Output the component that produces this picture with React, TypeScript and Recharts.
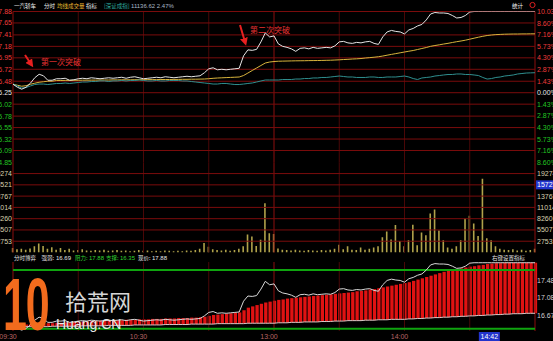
import { ComposedChart, Line, Bar, XAxis, YAxis, ReferenceLine } from 'recharts'

document.body.style.margin = '0'
document.body.style.background = '#000'

// one sample every 2 minutes of the trading day (09:30-11:30, 13:00-15:00)
const STEP_MIN = 2
const PREV_CLOSE = 16.25

const price = [
  16.42, 16.36, 16.32, 16.36, 16.44, 16.55, 16.62, 16.59, 16.5, 16.5,
  16.53, 16.53, 16.54, 16.5, 16.51, 16.53, 16.54, 16.53, 16.55, 16.54,
  16.53, 16.54, 16.55, 16.54, 16.55, 16.56, 16.54, 16.56, 16.57, 16.55,
  16.53, 16.54, 16.55, 16.56, 16.55, 16.57, 16.56, 16.55, 16.56, 16.57,
  16.58, 16.57, 16.58, 16.59, 16.65, 16.73, 16.75, 16.71, 16.72, 16.71,
  16.72, 16.73, 16.74, 16.99, 17.11, 17.1, 17.12, 17.27, 17.45, 17.37,
  17.39, 17.23, 17.18, 17.16, 17.13, 17.08, 17.14, 17.15, 17.13, 17.16,
  17.14, 17.15, 17.16, 17.15, 17.19, 17.27, 17.28, 17.25, 17.24, 17.26,
  17.25, 17.27, 17.28, 17.24, 17.22, 17.37, 17.47, 17.5, 17.48, 17.47,
  17.43, 17.51, 17.54, 17.59, 17.62, 17.71, 17.83, 17.86, 17.85, 17.85,
  17.84, 17.8, 17.75, 17.76, 17.8, 17.87, 17.88, 17.88, 17.88, 17.88,
  17.88, 17.88, 17.88, 17.88, 17.88, 17.88, 17.88, 17.88, 17.88, 17.88, 17.88,
]

const avgPrice = [
  16.42, 16.4, 16.38, 16.39, 16.42, 16.44, 16.46, 16.47, 16.48, 16.48,
  16.495, 16.495, 16.497, 16.497, 16.499, 16.499, 16.501, 16.501, 16.503, 16.503,
  16.505, 16.505, 16.505, 16.507, 16.507, 16.509, 16.509, 16.509, 16.511, 16.511,
  16.511, 16.513, 16.513, 16.513, 16.515, 16.515, 16.515, 16.517, 16.517, 16.519,
  16.519, 16.521, 16.521, 16.523, 16.525, 16.531, 16.539, 16.545, 16.549, 16.553,
  16.557, 16.561, 16.565, 16.595, 16.645, 16.696, 16.746, 16.796, 16.846, 16.866,
  16.876, 16.882, 16.884, 16.886, 16.888, 16.89, 16.891, 16.892, 16.894, 16.895,
  16.896, 16.898, 16.9, 16.902, 16.906, 16.91, 16.916, 16.92, 16.926, 16.93,
  16.936, 16.946, 16.954, 16.962, 16.972, 16.986, 17.003, 17.019, 17.035, 17.051,
  17.067, 17.083, 17.097, 17.117, 17.137, 17.157, 17.181, 17.197, 17.211, 17.227,
  17.241, 17.258, 17.274, 17.288, 17.304, 17.324, 17.344, 17.364, 17.382, 17.398,
  17.408, 17.416, 17.42, 17.424, 17.426, 17.428, 17.428, 17.43, 17.43, 17.432, 17.432,
]

// 深证成指, % change
const indexPct = [
  1.07, 0.83, 0.58, 0.64, 0.83, 1.01, 1.07, 1.07, 1.01, 1.07,
  1.14, 1.14, 1.2, 1.14, 1.2, 1.26, 1.32, 1.32, 1.38, 1.38,
  1.45, 1.45, 1.38, 1.45, 1.45, 1.51, 1.45, 1.51, 1.51, 1.57,
  1.51, 1.45, 1.45, 1.51, 1.45, 1.45, 1.51, 1.51, 1.51, 1.45,
  1.45, 1.38, 1.32, 1.26, 1.2, 1.14, 1.07, 1.07, 1.14, 1.14,
  1.07, 1.01, 1.01, 1.07, 1.14, 1.2, 1.32, 1.45, 1.57, 1.57,
  1.57, 1.57, 1.63, 1.63, 1.63, 1.69, 1.69, 1.75, 1.75, 1.82,
  1.82, 1.88, 1.88, 1.94, 2.0, 2.06, 2.0, 1.94, 1.94, 1.88,
  1.88, 1.88, 1.94, 1.94, 1.88, 1.88, 1.94, 1.94, 1.94, 2.0,
  2.06, 1.94, 1.75, 1.63, 1.82, 1.88, 1.94, 2.06, 2.12, 2.19,
  2.25, 2.25, 2.31, 2.31, 2.25, 2.25, 2.19, 2.12, 1.88, 1.69,
  1.75, 1.88, 1.94, 2.06, 2.12, 2.19, 2.31, 2.37, 2.43, 2.45, 2.47,
]

const volume = [
  1100, 800, 900, 700, 1000, 1500, 2200, 1600, 900, 1300,
  700, 1100, 600, 900, 500, 600, 800, 500, 400, 600,
  500, 700, 400, 500, 600, 400, 500, 300, 400, 600,
  400, 500, 300, 400, 300, 500, 400, 300, 400, 300,
  500, 400, 600, 900, 2300, 1400, 800, 600, 500, 700,
  400, 600, 900, 1500, 4400, 3900, 1600, 3100, 12000, 4700,
  4500, 1000, 700, 600, 500, 700, 500, 400, 600, 500,
  400, 600, 500, 700, 900, 1900, 800, 1500, 700, 600,
  1200, 700, 900, 1200, 1500, 3700, 5100, 3200, 6700, 2800,
  1500, 3000, 6800, 1800, 4900, 4200, 9500, 10500, 5400, 3000,
  1200, 900, 1500, 3000, 8300, 9000, 7100, 4000, 18000, 3500,
  3000, 1500, 900, 700, 600, 800, 500, 700, 400, 600, 900,
]

// 分时博弈 red band: lower and upper edge
const bandLow = [
  16.39, 16.39, 16.39, 16.4, 16.4, 16.4, 16.4, 16.4, 16.4, 16.41,
  16.41, 16.41, 16.41, 16.41, 16.41, 16.41, 16.42, 16.42, 16.42, 16.42,
  16.42, 16.42, 16.43, 16.43, 16.43, 16.43, 16.43, 16.43, 16.44, 16.44,
  16.44, 16.44, 16.44, 16.44, 16.44, 16.45, 16.45, 16.45, 16.45, 16.45,
  16.45, 16.46, 16.46, 16.46, 16.46, 16.46, 16.46, 16.47, 16.47, 16.47,
  16.47, 16.47, 16.47, 16.47, 16.48, 16.48, 16.48, 16.48, 16.48, 16.48,
  16.48, 16.49, 16.49, 16.49, 16.5, 16.5, 16.5, 16.51, 16.51, 16.51,
  16.51, 16.52, 16.52, 16.52, 16.53, 16.53, 16.53, 16.54, 16.54, 16.54,
  16.54, 16.55, 16.55, 16.55, 16.56, 16.56, 16.56, 16.57, 16.57, 16.57,
  16.57, 16.58, 16.58, 16.59, 16.59, 16.6, 16.6, 16.61, 16.61, 16.62,
  16.62, 16.63, 16.63, 16.64, 16.64, 16.65, 16.65, 16.66, 16.66, 16.67,
  16.67, 16.68, 16.68, 16.69, 16.69, 16.7, 16.7, 16.7, 16.71, 16.71, 16.71,
]

const bandHigh = [
  16.44, 16.44, 16.45, 16.45, 16.46, 16.46, 16.47, 16.47, 16.48, 16.48,
  16.49, 16.49, 16.5, 16.5, 16.51, 16.51, 16.52, 16.52, 16.53, 16.53,
  16.54, 16.54, 16.54, 16.55, 16.55, 16.55, 16.56, 16.56, 16.56, 16.57,
  16.57, 16.57, 16.58, 16.58, 16.58, 16.59, 16.59, 16.59, 16.6, 16.6,
  16.6, 16.61, 16.61, 16.62, 16.63, 16.65, 16.67, 16.68, 16.69, 16.7,
  16.71, 16.72, 16.73, 16.78, 16.84, 16.87, 16.9, 16.93, 16.96, 16.98,
  17.0, 17.02, 17.03, 17.05, 17.06, 17.07, 17.08, 17.09, 17.1, 17.11,
  17.12, 17.13, 17.14, 17.15, 17.16, 17.17, 17.18, 17.19, 17.2, 17.22,
  17.23, 17.24, 17.26, 17.27, 17.29, 17.31, 17.33, 17.35, 17.37, 17.39,
  17.41, 17.43, 17.46, 17.49, 17.52, 17.55, 17.58, 17.61, 17.64, 17.67,
  17.69, 17.71, 17.73, 17.75, 17.77, 17.79, 17.8, 17.82, 17.83, 17.85,
  17.86, 17.87, 17.87, 17.88, 17.88, 17.88, 17.88, 17.88, 17.88, 17.88, 17.88,
]

const priceTicks = [17.88, 17.65, 17.41, 17.18, 16.95, 16.72, 16.48, 16.25, 16.02, 15.78, 15.55, 15.32, 15.09, 14.85]
const pctTicks = [10.03, 8.6, 7.16, 5.73, 4.3, 2.87, 1.43, 0, -1.43, -2.87, -4.3, -5.73, -7.16, -8.6]
const volTicks = [19274, 16521, 13767, 11014, 8260, 5507, 2753]
const indTicks = [17.48, 17.08, 16.67]
const xTicks = [0, 60, 120, 180, 222]
const xTickLabels = ['09:30', '10:30', '13:00', '14:00', '14:42']
const CURSOR_MIN = 222
const CURSOR_VOL_TICK = 16521
const cursorVolLabel = '15727'
const halfHourLines = [30, 60, 90, 150, 180, 210]
const SESSION_BREAK = 120
const indGuides = [17.71, 16.35]

const rows = price.map((p, i) => ({
  t: i * STEP_MIN,
  price: p,
  avg: avgPrice[i],
  idx: indexPct[i],
  vol: volume[i],
  low: bandLow[i],
  band: [bandLow[i], bandHigh[i]],
}))

const GRID = '#7a0c0c'
const VGRID = '#4a0707'
const RED_TXT = '#ee3b3b'
const GREEN_TXT = '#22c422'
const NUM_FONT = '"Liberation Sans", Arial, sans-serif'
const CJK_FONT = '"Noto Sans CJK SC", sans-serif'
const CJK = 5.5
const NUM = 6

const leftPriceTick = (props: any) => {
  const v = props.payload.value
  const c = v > PREV_CLOSE + 0.001 ? RED_TXT : v < PREV_CLOSE - 0.001 ? GREEN_TXT : '#e8e8e8'
  return (
    <text x={12} y={props.y} dy={2.5} textAnchor="end" fill={c} fontSize={7} fontFamily={NUM_FONT}>
      {v.toFixed(2)}
    </text>
  )
}

const pctTick = (props: any) => {
  const v = props.payload.value
  const c = v > 0 ? RED_TXT : v < 0 ? GREEN_TXT : '#e8e8e8'
  return (
    <text x={537} y={props.y} dy={2.5} textAnchor="start" fill={c} fontSize={7} fontFamily={NUM_FONT}>
      {Math.abs(v).toFixed(2)}%
    </text>
  )
}

const leftVolTick = (props: any) => (
  <text x={12} y={props.y} dy={2.5} textAnchor="end" fill="#d8d2b0" fontSize={7} fontFamily={NUM_FONT}>
    {props.payload.value}
  </text>
)

const rightVolTick = (props: any) => {
  const v = props.payload.value
  if (v === CURSOR_VOL_TICK) {
    return (
      <g>
        <rect x={536} y={props.y - 4.5} width={17} height={9} fill="#2233cc" />
        <text x={537} y={props.y} dy={2.5} fill="#ffffff" fontSize={7} fontFamily={NUM_FONT}>
          {cursorVolLabel}
        </text>
      </g>
    )
  }
  return (
    <text x={537} y={props.y} dy={2.5} fill="#d8d2b0" fontSize={7} fontFamily={NUM_FONT}>
      {v}
    </text>
  )
}

const indTick = (props: any) => (
  <text x={537} y={props.y} dy={2.5} fill="#d0d0d0" fontSize={7} fontFamily={NUM_FONT}>
    {props.payload.value.toFixed(2)}
  </text>
)

// x-axis labels sit in the bottom 10px of the 88px-high indicator chart
const timeTick = (props: any) => {
  const v = props.payload.value
  const label = xTickLabels[xTicks.indexOf(v)]
  if (v === CURSOR_MIN) {
    return (
      <g>
        <rect x={props.x - 17} y={79} width={21} height={9} fill="#2233cc" />
        <text x={props.x - 6.5} y={86} textAnchor="middle" fill="#ffffff" fontSize={7} fontFamily={NUM_FONT}>
          {label}
        </text>
      </g>
    )
  }
  return (
    <text x={props.x - 5} y={86} textAnchor="middle" fill="#b86464" fontSize={7} fontFamily={NUM_FONT}>
      {label}
    </text>
  )
}

function vLines(axisId: string) {
  return [
    ...halfHourLines.map((m) => (
      <ReferenceLine key={'v' + m} x={m} yAxisId={axisId} stroke={VGRID} strokeWidth={1} />
    )),
    <ReferenceLine key="brk" x={SESSION_BREAK} yAxisId={axisId} stroke="#8c0e0e" strokeWidth={1} />,
    <ReferenceLine key="l" x={0} yAxisId={axisId} stroke="#8c0e0e" strokeWidth={1} />,
    <ReferenceLine key="r" x={240} yAxisId={axisId} stroke="#8c0e0e" strokeWidth={1} />,
  ]
}

// overlay text, y is the baseline
function Txt({ x, y, c, s = CJK, f = CJK_FONT, children }: any) {
  return (
    <text x={x} y={y} fill={c} fontSize={s} fontFamily={f}>
      {children}
    </text>
  )
}

export default function App() {
  return (
    <div style={{ position: 'relative', width: 553, height: 341, background: '#000', overflow: 'hidden' }}>
      {/* price panel */}
      <div style={{ position: 'absolute', left: 0, top: 0 }}>
        <ComposedChart width={553} height={168} data={rows} margin={{ top: 11.5, right: 0, bottom: 5.7, left: 0 }}>
          <XAxis type="number" dataKey="t" domain={[0, 240]} hide />
          <YAxis
            yAxisId="p"
            domain={[14.853, 17.88]}
            ticks={priceTicks}
            interval={0}
            width={13}
            axisLine={false}
            tickLine={false}
            tick={leftPriceTick}
            allowDataOverflow
          />
          <YAxis
            yAxisId="pct"
            orientation="right"
            domain={[-8.597, 10.03]}
            ticks={pctTicks}
            interval={0}
            width={18}
            axisLine={false}
            tickLine={false}
            tick={pctTick}
            allowDataOverflow
          />
          {vLines('p')}
          {priceTicks.map((v) => (
            <ReferenceLine key={v} y={v} yAxisId="p" stroke={GRID} strokeWidth={1} />
          ))}
          <Line yAxisId="p" dataKey="avg" stroke="#d8b43c" strokeWidth={1} dot={false} isAnimationActive={false} />
          <Line yAxisId="pct" dataKey="idx" stroke="#2f8f8f" strokeWidth={1} dot={false} isAnimationActive={false} />
          <Line yAxisId="p" dataKey="price" stroke="#e4e4e4" strokeWidth={1} dot={false} isAnimationActive={false} />
        </ComposedChart>
      </div>

      {/* volume panel */}
      <div style={{ position: 'absolute', left: 0, top: 150 }}>
        <ComposedChart width={553} height={110} data={rows} margin={{ top: 12.3, right: 0, bottom: 7.5, left: 0 }}>
          <XAxis type="number" dataKey="t" domain={[0, 240]} hide />
          <YAxis
            yAxisId="v"
            domain={[0, 22027]}
            ticks={volTicks}
            interval={0}
            width={13}
            axisLine={false}
            tickLine={false}
            tick={leftVolTick}
            allowDataOverflow
          />
          <YAxis
            yAxisId="vr"
            orientation="right"
            domain={[0, 22027]}
            ticks={volTicks}
            interval={0}
            width={18}
            axisLine={false}
            tickLine={false}
            tick={rightVolTick}
            allowDataOverflow
          />
          {vLines('v')}
          {volTicks.map((v) => (
            <ReferenceLine key={v} y={v} yAxisId="v" stroke={GRID} strokeWidth={1} />
          ))}
          <Bar yAxisId="v" dataKey="vol" fill="#b0a24a" barSize={1.6} isAnimationActive={false} />
        </ComposedChart>
      </div>

      {/* 分时博弈 panel */}
      <div style={{ position: 'absolute', left: 0, top: 253 }}>
        <ComposedChart width={553} height={88} data={rows} margin={{ top: 9, right: 0, bottom: 0, left: 13 }}>
          <XAxis
            type="number"
            dataKey="t"
            domain={[0, 240]}
            ticks={xTicks}
            interval={0}
            height={10}
            axisLine={false}
            tickLine={false}
            tick={timeTick}
          />
          <YAxis
            yAxisId="i"
            orientation="right"
            domain={[16.3, 17.897]}
            ticks={indTicks}
            interval={0}
            width={18}
            axisLine={false}
            tickLine={false}
            tick={indTick}
            allowDataOverflow
          />
          {vLines('i')}
          <Bar yAxisId="i" dataKey="band" fill="#e01212" barSize={3.3} isAnimationActive={false} />
          {indGuides.map((v) => (
            <ReferenceLine key={v} y={v} yAxisId="i" stroke="#0fa40f" strokeWidth={2} />
          ))}
          <Line yAxisId="i" dataKey="low" stroke="#d8c8c8" strokeWidth={1} dot={false} isAnimationActive={false} />
          <Line yAxisId="i" dataKey="price" stroke="#d8d8d8" strokeWidth={1} dot={false} isAnimationActive={false} />
        </ComposedChart>
      </div>

      {/* texts and annotations */}
      <svg width={553} height={341} style={{ position: 'absolute', left: 0, top: 0 }}>
        <defs>
          <marker id="ah" markerWidth="4" markerHeight="4" refX="2" refY="2" orient="auto">
            <path d="M0,0 L4,2 L0,4 Z" fill="#e82020" />
          </marker>
        </defs>

        <Txt x={14} y={7.5} c="#f0f0f0">一汽轿车</Txt>
        <Txt x={44} y={7.5} c="#f0f0f0">分时</Txt>
        <Txt x={57} y={7.5} c="#e8c030">均线</Txt>
        <Txt x={68} y={7.5} c="#e8b030">成交量</Txt>
        <Txt x={86} y={7.5} c="#f0f0f0">指标</Txt>
        <Txt x={104} y={7.5} c="#2fb0a0">[深证成指]</Txt>
        <Txt x={131} y={7.5} c="#a8b8c8" s={NUM} f={NUM_FONT}>11136.62 2.47%</Txt>
        <Txt x={512} y={7.5} c="#f0f0f0">统计</Txt>
        <circle cx={532.5} cy={5} r={2.6} fill="none" stroke="#e02020" strokeWidth={1} />

        <line x1={25} y1={55} x2={31} y2={64} stroke="#e82020" strokeWidth={2} markerEnd="url(#ah)" />
        <line x1={240} y1={25} x2={245} y2={42} stroke="#e82020" strokeWidth={2} markerEnd="url(#ah)" />
        <Txt x={41} y={65} c="#e83232" s={8}>第一次突破</Txt>
        <Txt x={250} y={33} c="#e83232" s={8}>第二次突破</Txt>

        <Txt x={14} y={260} c="#e8e8e8">分时博弈</Txt>
        <Txt x={41.5} y={260} c="#e8e8e8">强弱:</Txt>
        <Txt x={56} y={260} c="#e8e8e8" s={NUM} f={NUM_FONT}>16.69</Txt>
        <Txt x={75} y={260} c="#30d030">阻力:</Txt>
        <Txt x={89} y={260} c="#30d030" s={NUM} f={NUM_FONT}>17.88</Txt>
        <Txt x={106} y={260} c="#30d030">支撑:</Txt>
        <Txt x={120} y={260} c="#30d030" s={NUM} f={NUM_FONT}>16.35</Txt>
        <Txt x={138} y={260} c="#e8e8e8">现价:</Txt>
        <Txt x={152} y={260} c="#e8e8e8" s={NUM} f={NUM_FONT}>17.88</Txt>
        <Txt x={492} y={260} c="#e8e8e8">右键设置指标</Txt>

        {/* watermark */}
        <g transform="translate(3 330) scale(0.58 1)">
          <text x={0} y={0} fill="#f26b1d" fontSize={74} fontWeight={900} fontFamily={NUM_FONT} letterSpacing={-2}>
            10
          </text>
        </g>
        <Txt x={65} y={310} c="#d6d6d6" s={22}>拾荒网</Txt>
        <Txt x={56} y={329} c="#e8e8e8" s={14} f={NUM_FONT}>Huang.CN</Txt>
      </svg>
    </div>
  )
}
